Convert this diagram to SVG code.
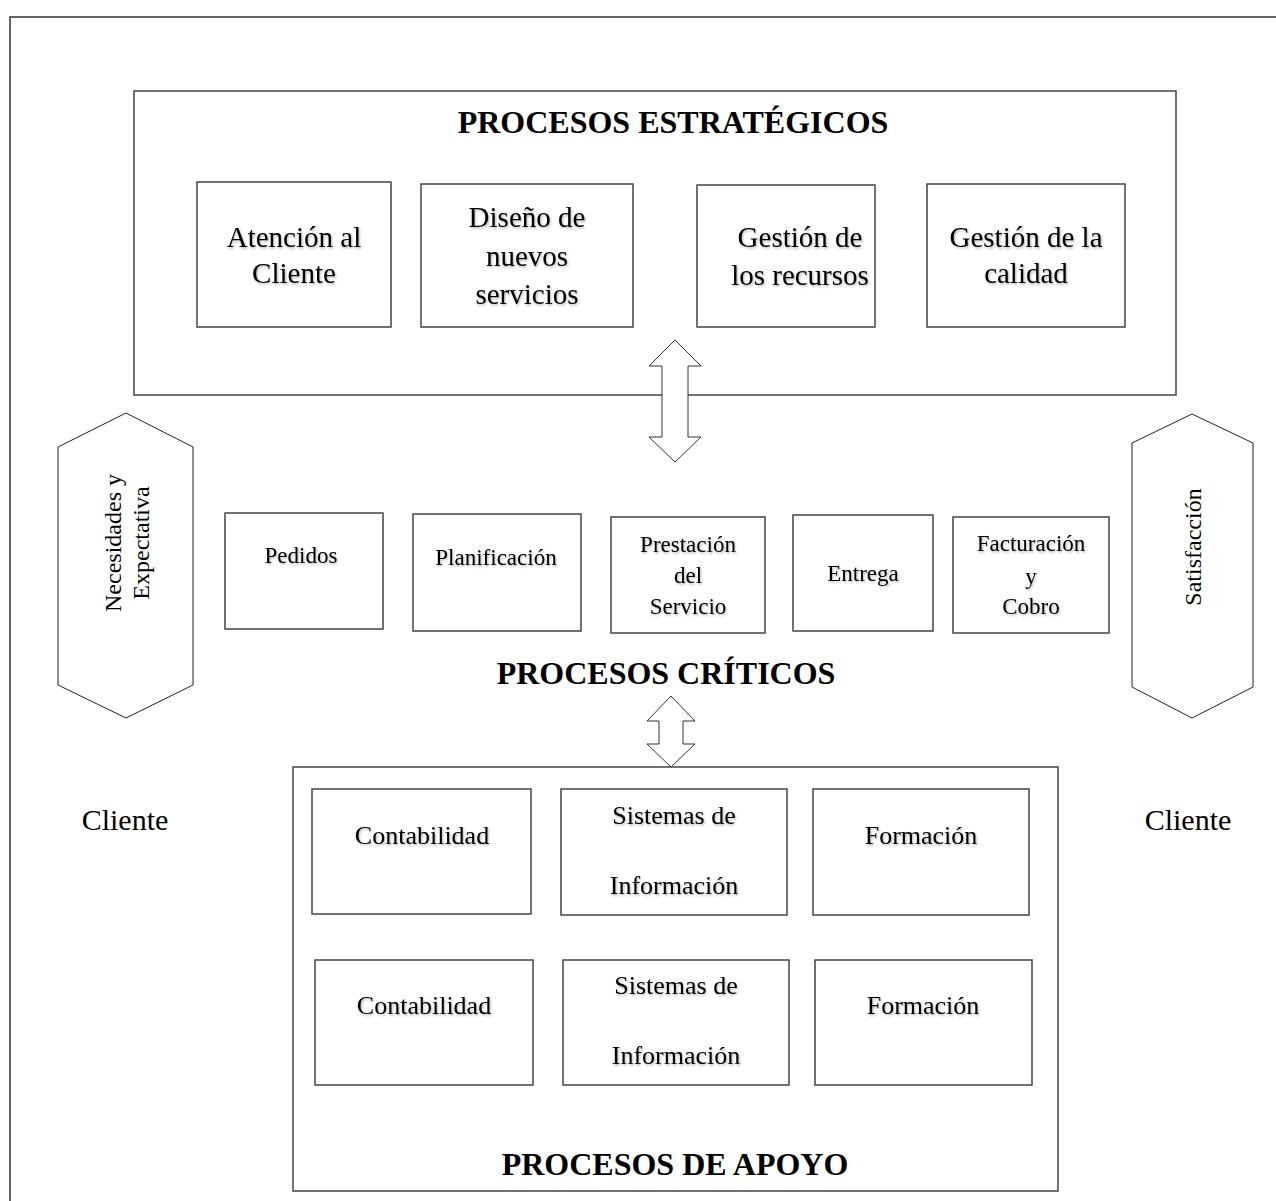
<svg xmlns="http://www.w3.org/2000/svg" width="1276" height="1201" viewBox="0 0 1276 1201">
<defs>
<filter id="sh" x="-10%" y="-30%" width="120%" height="160%">
<feDropShadow dx="1" dy="1.5" stdDeviation="1" flood-color="#000" flood-opacity="0.3"/>
</filter>
<style>
.frame{fill:none;stroke:#333;stroke-width:1.5}
.box{fill:#fff;stroke:#444;stroke-width:1.5}
.hex{fill:#fff;stroke:#222;stroke-width:1}
.arr{fill:#fff;stroke:#333;stroke-width:1}
text{font-family:"Liberation Serif","Times New Roman",serif;fill:#000;text-anchor:middle}
.title{font-weight:bold;font-size:32px}
.s{font-size:29px;filter:url(#sh)}
.c{font-size:23px;filter:url(#sh)}
.a{font-size:26px;filter:url(#sh)}
.v{font-size:24px}
.cl{font-size:30px}
</style>
</defs>
<rect width="1276" height="1201" fill="#fff"/>
<polyline class="frame" points="10,1210 10,17 1290,17"/>

<g id="estrategicos">
<rect class="box" x="134" y="91" width="1042" height="304"/>
<text class="title" x="673" y="133">PROCESOS ESTRATÉGICOS</text>
</g>
<g id="atencion"><rect class="box" x="197" y="182" width="194" height="145"/>
<text class="s" x="294" y="247">Atención al</text><text class="s" x="294" y="283">Cliente</text></g>
<g id="diseno"><rect class="box" x="421" y="184" width="212" height="143"/>
<text class="s" x="527" y="227">Diseño de</text><text class="s" x="527" y="266">nuevos</text><text class="s" x="527" y="304">servicios</text></g>
<g id="recursos"><rect class="box" x="697" y="185" width="178" height="142"/>
<text class="s" x="800" y="247">Gestión de</text><text class="s" x="800" y="285">los recursos</text></g>
<g id="calidad"><rect class="box" x="927" y="184" width="198" height="143"/>
<text class="s" x="1026" y="247">Gestión de la</text><text class="s" x="1026" y="283">calidad</text></g>

<g id="necesidades"><polygon class="hex" points="126,413 193,447 193,685 126,718 58,685 58,447"/>
<text class="v" transform="translate(121,543) rotate(-90)">Necesidades y</text>
<text class="v" transform="translate(149,543) rotate(-90)">Expectativa</text></g>
<g id="satisfaccion"><polygon class="hex" points="1192,414 1253,443 1253,687 1192,718 1132,687 1132,443"/>
<text class="v" transform="translate(1201,547) rotate(-90)">Satisfacción</text></g>

<g id="pedidos"><rect class="box" x="225" y="513" width="158" height="116"/>
<text class="c" x="301" y="563">Pedidos</text></g>
<g id="planificacion"><rect class="box" x="413" y="514" width="168" height="117"/>
<text class="c" x="496" y="565">Planificación</text></g>
<g id="prestacion"><rect class="box" x="611" y="517" width="154" height="116"/>
<text class="c" x="688" y="552">Prestación</text><text class="c" x="688" y="583">del</text><text class="c" x="688" y="614">Servicio</text></g>
<g id="entrega"><rect class="box" x="793" y="515" width="140" height="116"/>
<text class="c" x="863" y="581">Entrega</text></g>
<g id="facturacion"><rect class="box" x="953" y="517" width="156" height="116"/>
<text class="c" x="1031" y="551">Facturación</text><text class="c" x="1031" y="584">y</text><text class="c" x="1031" y="614">Cobro</text></g>
<g id="criticos"><text class="title" x="666" y="684">PROCESOS CRÍTICOS</text></g>

<g id="cliente-izq"><text class="cl" x="125" y="830">Cliente</text></g>
<g id="cliente-der"><text class="cl" x="1188" y="830">Cliente</text></g>

<g id="apoyo">
<rect class="box" x="293" y="767" width="765" height="424"/>
<text class="title" x="675" y="1175">PROCESOS DE APOYO</text>
</g>
<g id="contabilidad1"><rect class="box" x="312" y="789" width="219" height="125"/>
<text class="a" x="422" y="844">Contabilidad</text></g>
<g id="sistemas1"><rect class="box" x="561" y="789" width="226" height="126"/>
<text class="a" x="674" y="824">Sistemas de</text><text class="a" x="674" y="894">Información</text></g>
<g id="formacion1"><rect class="box" x="813" y="789" width="216" height="126"/>
<text class="a" x="921" y="844">Formación</text></g>
<g id="contabilidad2"><rect class="box" x="315" y="960" width="218" height="125"/>
<text class="a" x="424" y="1014">Contabilidad</text></g>
<g id="sistemas2"><rect class="box" x="563" y="960" width="226" height="125"/>
<text class="a" x="676" y="994">Sistemas de</text><text class="a" x="676" y="1064">Información</text></g>
<g id="formacion2"><rect class="box" x="815" y="960" width="217" height="125"/>
<text class="a" x="923" y="1014">Formación</text></g>

<g id="connectors">
<polygon class="arr" points="675,340 701,366 688,366 688,437 701,437 675,462 649,437 662,437 662,366 649,366"/>
<polygon class="arr" points="671,696 695,721 683,721 683,744 695,744 671,767 647,744 659,744 659,721 647,721"/>
</g>
</svg>
